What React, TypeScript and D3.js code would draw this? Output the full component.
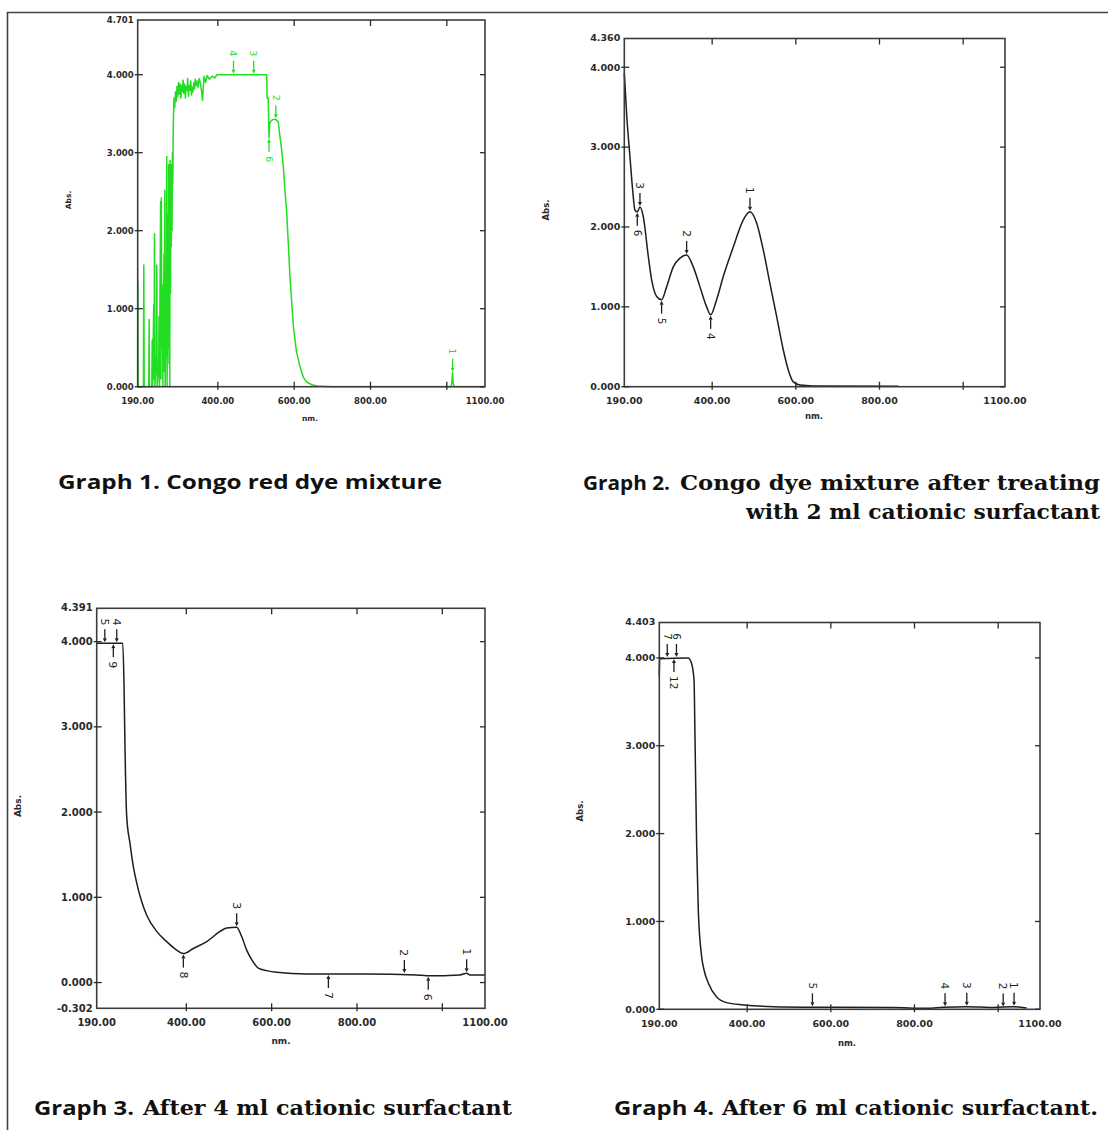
import * as d3 from "d3";
import React from "react";

type Pt = [number, number];
// [nm, abs at curve, label, dir]  dir: 1 = marker above curve, -1 = below
type Mark = [number, number, string, number];

const nmDomain: Pt = [190, 1100];
const xTickNm = [400, 600, 800, 1000];
const xLabelNm = [190, 400, 600, 800, 1100];
const xLabels = ["190.00", "400.00", "600.00", "800.00", "1100.00"];
const yTickAbs = [0, 1, 2, 3, 4];
const yLabels = ["0.000", "1.000", "2.000", "3.000", "4.000"];

// Graph 1 - Congo red dye mixture (noisy, saturated)
const g1Curve: Pt[] = [
  [190, 0], [190.2, 1.35], [191, 0], [205, 0], [206, 1.56], [207, 0], [219, 0], [220, 0.86], [221, 0],
  [227, 0], [228, 0.6], [229, 0], [232, 1.05], [233, 0.1], [234, 1.96], [235, 0], [239, 0.4], [240, 1.56],
  [241, 0], [245, 0.3], [246, 0.9], [247, 0], [250, 2.37], [251, 0.1], [252, 2.42], [253, 0.5], [255, 1.3],
  [256, 0], [259, 1.7], [260, 0.2], [261, 2.52], [262, 0], [264, 1.5], [265, 0.4], [266, 2.95], [267, 0],
  [269, 2.2], [270, 0.5], [271, 2.85], [272, 0.3], [273, 2.6], [274, 0], [275, 2.9], [276, 1.2], [277, 2.7],
  [278, 1.8], [279, 2.85], [280, 2.0], [281, 3.0], [282, 2.6], [283, 3.3], [285, 3.7], [287, 3.58],
  [289, 3.78], [291, 3.66], [293, 3.85], [295, 3.72], [297, 3.9], [299, 3.75], [301, 3.88], [303, 3.7],
  [305, 3.86], [307, 3.78], [309, 3.93], [311, 3.76], [313, 3.88], [315, 3.7], [317, 3.85], [319, 3.8],
  [321, 3.95], [323, 3.72], [325, 3.86], [327, 3.8], [329, 3.92], [331, 3.74], [333, 3.84], [335, 3.78],
  [337, 3.9], [339, 3.82], [341, 3.94], [343, 3.86], [345, 3.92], [348, 3.84], [351, 3.95], [354, 3.9],
  [357, 3.8], [360, 3.67], [362, 3.85], [364, 3.98], [368, 3.9], [372, 3.99], [378, 3.94], [385, 3.98],
  [392, 3.96], [398, 4.0], [528, 4.0], [529, 3.7], [532, 3.7], [534, 3.19], [536, 3.38], [542, 3.42],
  [550, 3.43], [558, 3.4], [563, 3.2], [567, 3.05], [572, 2.8], [576, 2.5], [580, 2.27], [585, 1.8],
  [589, 1.41], [594, 1.05], [598, 0.77], [606, 0.45], [615, 0.26], [624, 0.12], [633, 0.06], [646, 0.025],
  [660, 0.01], [700, 0], [1011, 0], [1013, 0.06], [1015, 0.18], [1017, 0.03], [1020, 0], [1100, 0],
];
const g1Marks: Mark[] = [
  [441, 4.0, "4", 1], [494, 4.0, "3", 1], [552, 3.43, "2", 1], [534, 3.19, "6", -1], [1015, 0.18, "1", 1],
];

// Graph 2 - after 2 ml cationic surfactant
const g2Curve: Pt[] = [
  [190, 3.93], [196, 3.38], [203.5, 2.88], [210, 2.46], [215.5, 2.21], [221, 2.19], [227.4, 2.25],
  [235.4, 2.13], [247.4, 1.63], [255.3, 1.34], [267.3, 1.13], [279.2, 1.09], [291.2, 1.25], [307.1, 1.5],
  [323.1, 1.61], [339, 1.65], [354.9, 1.5], [370.9, 1.25], [386.8, 1.0], [396.4, 0.9], [410.7, 1.09],
  [426.6, 1.38], [450.6, 1.75], [474.5, 2.09], [490.4, 2.19], [506.3, 2.05], [522.3, 1.71], [538.2, 1.29],
  [554.1, 0.88], [570.1, 0.46], [582, 0.21], [594, 0.06], [610, 0.02], [642, 0.01], [845, 0.005],
];
const g2Marks: Mark[] = [
  [490.4, 2.19, "1", 1], [339, 1.65, "2", 1], [227.4, 2.25, "3", 1],
  [221, 2.19, "6", -1], [279.2, 1.09, "5", -1], [396.4, 0.9, "4", -1],
];

// Graph 3 - after 4 ml cationic surfactant
const g3Curve: Pt[] = [
  [190, 3.98], [251, 3.98], [254, 3.5], [256.4, 2.73], [260.3, 1.95], [268.1, 1.63], [275.9, 1.36],
  [283.7, 1.17], [295.4, 0.95], [307.2, 0.79], [330.6, 0.6], [354, 0.48], [377.5, 0.38], [393.1, 0.34],
  [416.5, 0.4], [447.8, 0.48], [479, 0.6], [494.6, 0.64], [518, 0.65], [529.8, 0.54], [541.5, 0.38],
  [553.2, 0.27], [568.8, 0.17], [588.4, 0.14], [611.8, 0.12], [682.1, 0.1], [822.7, 0.1], [939.9, 0.09],
  [963.3, 0.08], [1041.4, 0.09], [1057, 0.11], [1064.8, 0.09], [1100, 0.09],
];
const g3Marks: Mark[] = [
  [209, 3.98, "5", 1], [237, 3.98, "4", 1], [229, 3.98, "9", -1], [393.1, 0.34, "8", -1],
  [518, 0.65, "3", 1], [733, 0.1, "7", -1], [911, 0.1, "2", 1], [967, 0.08, "6", -1], [1057, 0.11, "1", 1],
];

// Graph 4 - after 6 ml cationic surfactant
const g4Curve: Pt[] = [
  [190, 3.8], [191, 3.99], [259, 4.0], [267, 3.94], [273, 3.75], [275.3, 3.11], [279.2, 1.89],
  [283.2, 1.13], [291.2, 0.6], [296.8, 0.45], [307.1, 0.3], [327.1, 0.14], [351, 0.076], [390.8, 0.05],
  [462.5, 0.03], [590, 0.023], [749, 0.02], [829, 0.012], [869, 0.023], [925, 0.03], [988, 0.02],
  [1036, 0.03], [1068, 0.015],
];
const g4Marks: Mark[] = [
  [209, 4.0, "7", 1], [231, 4.0, "6", 1], [225, 4.0, "12", -1], [556, 0.023, "5", 1],
  [873, 0.023, "4", 1], [925, 0.03, "3", 1], [1012, 0.02, "2", 1], [1038, 0.03, "1", 1],
];

const TICK_FONT = "DejaVu Sans, Arial, sans-serif";

const Spectrum = ({ cfg }: { cfg: any }) => {
  const x = d3.scaleLinear().domain(nmDomain).range([cfg.left, cfg.right]);
  const y = d3.scaleLinear().domain(cfg.yDomain).range([cfg.bottom, cfg.top]);
  const line = d3.line<Pt>().x(d => x(d[0])).y(d => y(d[1]))
    .curve(cfg.smooth ? d3.curveMonotoneX : d3.curveLinear);
  const fs = cfg.fontSize;
  const ink = "#2a2a2a";
  const y0 = y(cfg.yDomain[0]);

  return (
    <g>
      {/* curve */}
      <path d={line(cfg.data) || ""} fill="none" stroke={cfg.color} strokeWidth={1.5} strokeLinejoin="round" />

      {/* frame */}
      <rect x={cfg.left} y={cfg.top} width={cfg.right - cfg.left} height={cfg.bottom - cfg.top}
        fill="none" stroke="#3c3c3c" strokeWidth={1.6} />

      {/* y ticks */}
      {yTickAbs.map((v, i) => (
        <g key={"yt" + i}>
          <line x1={cfg.left - 3} x2={cfg.left + 5} y1={y(v)} y2={y(v)} stroke={ink} strokeWidth={1.3} />
          <line x1={cfg.right - 5} x2={cfg.right} y1={y(v)} y2={y(v)} stroke={ink} strokeWidth={1.3} />
          <text x={cfg.left - 4} y={y(v)} dy="0.35em" textAnchor="end" fontSize={fs}
            fontFamily={TICK_FONT} fontWeight="bold" fill={ink}>{yLabels[i]}</text>
        </g>
      ))}
      <text x={cfg.left - 4} y={cfg.top} dy="0.3em" textAnchor="end" fontSize={fs}
        fontFamily={TICK_FONT} fontWeight="bold" fill={ink}>{cfg.topLabel}</text>
      {cfg.bottomLabel && (
        <text x={cfg.left - 4} y={y0} dy="0.35em" textAnchor="end" fontSize={fs}
          fontFamily={TICK_FONT} fontWeight="bold" fill={ink}>{cfg.bottomLabel}</text>
      )}

      {/* x ticks */}
      {xTickNm.map(v => (
        <g key={"xt" + v}>
          <line x1={x(v)} x2={x(v)} y1={cfg.bottom + 3} y2={cfg.bottom - 5} stroke={ink} strokeWidth={1.3} />
          <line x1={x(v)} x2={x(v)} y1={cfg.top} y2={cfg.top + 6} stroke={ink} strokeWidth={1.3} />
        </g>
      ))}
      {xLabelNm.map((v, i) => (
        <text key={"xl" + v} x={x(v)} y={cfg.bottom + 14} dy="0.35em" textAnchor="middle" fontSize={fs}
          fontFamily={TICK_FONT} fontWeight="bold" fill={ink}>{xLabels[i]}</text>
      ))}

      {/* axis titles */}
      <text transform={`translate(${cfg.absPos[0]},${cfg.absPos[1]}) rotate(-90)`} textAnchor="middle"
        dy="0.35em" fontSize={fs - 1} fontFamily={TICK_FONT} fontWeight="bold" fill={ink}>Abs.</text>
      <text x={cfg.nmPos[0]} y={cfg.nmPos[1]} textAnchor="middle" dy="0.35em" fontSize={fs - 1}
        fontFamily={TICK_FONT} fontWeight="bold" fill={ink}>nm.</text>

      {/* peak / valley markers */}
      {cfg.marks.map((m: Mark, i: number) => {
        const px = x(m[0]);
        const py = y(m[1]);
        const s = m[3];
        const a = py - s * 1;
        const b = py - s * 5;
        const c = py - s * 14;
        const ty = c - s * (4 + m[2].length * 3.4);
        return (
          <g key={"mk" + i}>
            <line x1={px} x2={px} y1={b} y2={c} stroke={cfg.color} strokeWidth={1.3} />
            <path d={`M${px},${a}L${px - 2},${b}L${px + 2},${b}Z`} fill={cfg.color} />
            <text transform={`translate(${px},${ty}) rotate(90)`} textAnchor="middle" dy="0.35em"
              fontSize={fs + 1} fontFamily={TICK_FONT} fill={cfg.color}>{m[2]}</text>
          </g>
        );
      })}
    </g>
  );
};

const graphs = [
  {
    data: g1Curve, marks: g1Marks, color: "#22dd22", smooth: false, left: 137.7, right: 485, top: 20, bottom: 386.7,
    yDomain: [0, 4.701], topLabel: "4.701", bottomLabel: null, fontSize: 8.5, absPos: [68, 200], nmPos: [310, 418],
  },
  {
    data: g2Curve, marks: g2Marks, color: "#1e1e1e", smooth: true, left: 624.3, right: 1005, top: 38.5, bottom: 386.7,
    yDomain: [0, 4.36], topLabel: "4.360", bottomLabel: null, fontSize: 9.5, absPos: [546, 210], nmPos: [814, 416],
  },
  {
    data: g3Curve, marks: g3Marks, color: "#1e1e1e", smooth: true, left: 96.7, right: 485, top: 608.3, bottom: 1008.3,
    yDomain: [-0.302, 4.391], topLabel: "4.391", bottomLabel: "-0.302", fontSize: 10, absPos: [18, 806], nmPos: [281, 1041],
  },
  {
    data: g4Curve, marks: g4Marks, color: "#1e1e1e", smooth: true, left: 659.3, right: 1040, top: 622.5, bottom: 1009.3,
    yDomain: [0, 4.403], topLabel: "4.403", bottomLabel: null, fontSize: 9.5, absPos: [580, 811], nmPos: [847, 1043],
  },
];

const SANS = "Open Sans, Noto Sans, sans-serif";
const SERIF = "DejaVu Serif, Liberation Serif, serif";

const App = () => {
  return (
    <svg width={1108} height={1130} viewBox="0 0 1108 1130"
      style={{ position: "absolute", left: 0, top: 0, background: "#fff" }}>
      <rect x={0} y={0} width={1108} height={1130} fill="#fff" />
      {/* outer frame */}
      <path d="M7.5,1130 L7.5,12.5 L1108,12.5" fill="none" stroke="#444" strokeWidth={1.6} />

      {graphs.map((g, i) => <Spectrum key={i} cfg={g} />)}

      {/* captions */}
      <text x={58} y={489} fontSize={20} fontFamily={SANS} fontWeight="bold" fill="#111"
        textLength={384} lengthAdjust="spacingAndGlyphs">Graph 1. Congo red dye mixture</text>

      <text x={583} y={490} fontSize={20} fontFamily={SANS} fontWeight="bold" fill="#111"
        textLength={87} lengthAdjust="spacingAndGlyphs">Graph 2.</text>
      <text x={680} y={490} fontSize={20} fontFamily={SERIF} fontWeight="bold" fill="#111"
        textLength={420} lengthAdjust="spacingAndGlyphs">Congo dye mixture after treating</text>
      <text x={746} y={519} fontSize={20} fontFamily={SERIF} fontWeight="bold" fill="#111"
        textLength={354} lengthAdjust="spacingAndGlyphs">with 2 ml cationic surfactant</text>

      <text x={34} y={1115} fontSize={20} fontFamily={SANS} fontWeight="bold" fill="#111"
        textLength={100} lengthAdjust="spacingAndGlyphs">Graph 3.</text>
      <text x={143} y={1115} fontSize={20} fontFamily={SERIF} fontWeight="bold" fill="#111"
        textLength={369} lengthAdjust="spacingAndGlyphs">After 4 ml cationic surfactant</text>

      <text x={614} y={1115} fontSize={20} fontFamily={SANS} fontWeight="bold" fill="#111"
        textLength={100} lengthAdjust="spacingAndGlyphs">Graph 4.</text>
      <text x={722} y={1115} fontSize={20} fontFamily={SERIF} fontWeight="bold" fill="#111"
        textLength={376} lengthAdjust="spacingAndGlyphs">After 6 ml cationic surfactant.</text>
    </svg>
  );
};

export default App;
